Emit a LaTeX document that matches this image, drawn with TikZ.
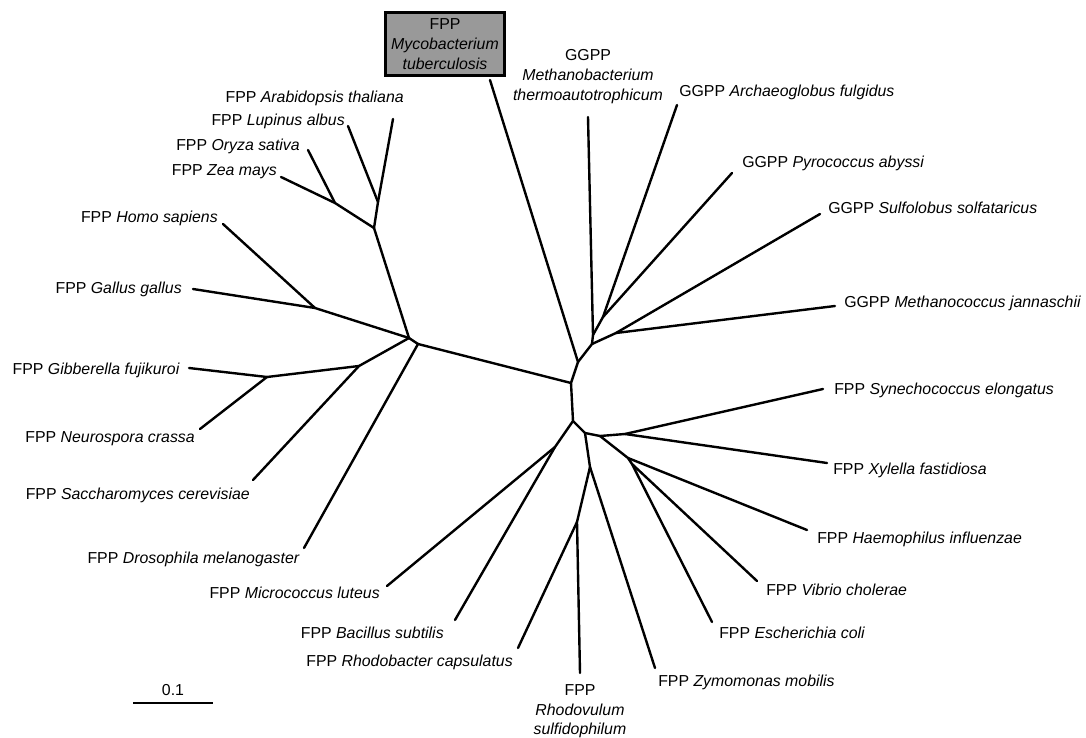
\documentclass[tikz,border=0pt]{standalone}
\usepackage{fontspec}
\setmainfont{Liberation Sans}
\begin{document}
\begin{tikzpicture}[x=0.75pt,y=-0.75pt,
  br/.style={line width=1.8pt, line cap=round, line join=round},
  lab/.style={font=\fontsize{11.9}{14.9}\selectfont, inner sep=0pt},
  labl/.style={lab, anchor=base west},
  labr/.style={lab, anchor=base east},
  labc/.style={lab, anchor=north, align=center}]
\useasboundingbox (0,0) rectangle (1086,738);

% internal nodes
\coordinate (C) at (578,362);
\coordinate (D) at (571,383);
\coordinate (E) at (592,344);
\coordinate (Q) at (593,335);
\coordinate (P) at (603,317);
\coordinate (G) at (616,333);
\coordinate (B) at (418,344);
\coordinate (A) at (409,338);
\coordinate (PL) at (374,228);
\coordinate (LA) at (378,202);
\coordinate (OZ) at (335,203);
\coordinate (HG) at (315,308);
\coordinate (FU) at (359,366);
\coordinate (GN) at (267,377);
\coordinate (F) at (573,421);
\coordinate (H) at (555,447);
\coordinate (I) at (585,433);
\coordinate (K) at (600,436);
\coordinate (J) at (590,467);
\coordinate (R) at (577,522);
\coordinate (L) at (625,434);
\coordinate (M) at (628,458);
\coordinate (N) at (632,464);

% tips
\coordinate (tMyco) at (490,80);
\coordinate (tMeth) at (588,117);
\coordinate (tArch) at (677,105);
\coordinate (tPyro) at (732,173);
\coordinate (tSulf) at (820,214);
\coordinate (tMjan) at (835,306);
\coordinate (tSyn) at (823,389);
\coordinate (tXyl) at (827,463);
\coordinate (tHae) at (807,530);
\coordinate (tVib) at (757,581);
\coordinate (tEsc) at (712,622);
\coordinate (tZym) at (655,668);
\coordinate (tRvu) at (580,673);
\coordinate (tRba) at (518,648);
\coordinate (tBac) at (455,620);
\coordinate (tMic) at (387,586);
\coordinate (tDro) at (304,548);
\coordinate (tSac) at (253,480);
\coordinate (tNeu) at (200,429);
\coordinate (tGib) at (189,368);
\coordinate (tGal) at (193,289);
\coordinate (tHom) at (223,224);
\coordinate (tZea) at (281,177);
\coordinate (tOry) at (308,150);
\coordinate (tLup) at (348,126);
\coordinate (tAra) at (393,119);

% branches
\draw[br] (tMyco) -- (C);
\draw[br] (C) -- (D);
\draw[br] (C) -- (E);
\draw[br] (E) -- (Q);
\draw[br] (Q) -- (tMeth);
\draw[br] (Q) -- (P);
\draw[br] (P) -- (tArch);
\draw[br] (P) -- (tPyro);
\draw[br] (E) -- (G);
\draw[br] (G) -- (tSulf);
\draw[br] (G) -- (tMjan);
\draw[br] (D) -- (B);
\draw[br] (D) -- (F);
\draw[br] (B) -- (A);
\draw[br] (B) -- (tDro);
\draw[br] (A) -- (PL);
\draw[br] (A) -- (HG);
\draw[br] (A) -- (FU);
\draw[br] (PL) -- (LA);
\draw[br] (PL) -- (OZ);
\draw[br] (LA) -- (tAra);
\draw[br] (LA) -- (tLup);
\draw[br] (OZ) -- (tOry);
\draw[br] (OZ) -- (tZea);
\draw[br] (HG) -- (tHom);
\draw[br] (HG) -- (tGal);
\draw[br] (FU) -- (GN);
\draw[br] (FU) -- (tSac);
\draw[br] (GN) -- (tGib);
\draw[br] (GN) -- (tNeu);
\draw[br] (F) -- (H);
\draw[br] (H) -- (tMic);
\draw[br] (H) -- (tBac);
\draw[br] (F) -- (I);
\draw[br] (I) -- (K);
\draw[br] (I) -- (J);
\draw[br] (J) -- (R);
\draw[br] (R) -- (tRba);
\draw[br] (R) -- (tRvu);
\draw[br] (J) -- (tZym);
\draw[br] (K) -- (L);
\draw[br] (L) -- (tSyn);
\draw[br] (L) -- (tXyl);
\draw[br] (K) -- (M);
\draw[br] (M) -- (tHae);
\draw[br] (M) -- (N);
\draw[br] (N) -- (tVib);
\draw[br] (N) -- (tEsc);

% labels
\node[lab, align=center, draw, line width=2pt, fill=black!40, minimum width=89pt, minimum height=47pt] (lMyco) at (445,44) {FPP\\\textit{Mycobacterium}\\\textit{tuberculosis}};
\node[labc] (lMeth) at (588,49) {GGPP\\\textit{Methanobacterium}\\\textit{thermoautotrophicum}};
\node[labl] (lArch) at (679,97) {GGPP \textit{Archaeoglobus fulgidus}};
\node[labl] (lPyro) at (742,168) {GGPP \textit{Pyrococcus abyssi}};
\node[labl] (lSulf) at (828,214) {GGPP \textit{Sulfolobus solfataricus}};
\node[labl] (lMjan) at (844,307) {GGPP \textit{Methanococcus jannaschii}};
\node[labl] (lSyn) at (834,394) {FPP \textit{Synechococcus elongatus}};
\node[labl] (lXyl) at (833,474) {FPP \textit{Xylella fastidiosa}};
\node[labl] (lHae) at (817,543) {FPP \textit{Haemophilus influenzae}};
\node[labl] (lVib) at (766,595) {FPP \textit{Vibrio cholerae}};
\node[labl] (lEsc) at (719,638) {FPP \textit{Escherichia coli}};
\node[labl] (lZym) at (658,686) {FPP \textit{Zymomonas mobilis}};
\node[labc] (lRvu) at (580,684) {FPP\\\textit{Rhodovulum}\\\textit{sulfidophilum}};
\node[labr] (lRba) at (513,666) {FPP \textit{Rhodobacter capsulatus}};
\node[labr] (lBac) at (444,638) {FPP \textit{Bacillus subtilis}};
\node[labr] (lMic) at (380,598) {FPP \textit{Micrococcus luteus}};
\node[labr] (lDro) at (300,563) {FPP \textit{Drosophila melanogaster}};
\node[labr] (lSac) at (250,499) {FPP \textit{Saccharomyces cerevisiae}};
\node[labr] (lNeu) at (195,442) {FPP \textit{Neurospora crassa}};
\node[labr] (lGib) at (180,374) {FPP \textit{Gibberella fujikuroi}};
\node[labr] (lGal) at (182,294) {FPP \textit{Gallus gallus}};
\node[labr] (lHom) at (218,223) {FPP \textit{Homo sapiens}};
\node[labr] (lZea) at (277,176) {FPP \textit{Zea mays}};
\node[labr] (lOry) at (300,151) {FPP \textit{Oryza sativa}};
\node[labr] (lLup) at (345,126) {FPP \textit{Lupinus albus}};
\node[labr] (lAra) at (404,103) {FPP \textit{Arabidopsis thaliana}};

% scale bar
\coordinate (s1) at (133,703);
\coordinate (s2) at (213,703);
\draw[line width=1.8pt] (s1) -- (s2);
\node[lab, anchor=base] (lScale) at (173,695) {0.1};
\end{tikzpicture}
\end{document}
